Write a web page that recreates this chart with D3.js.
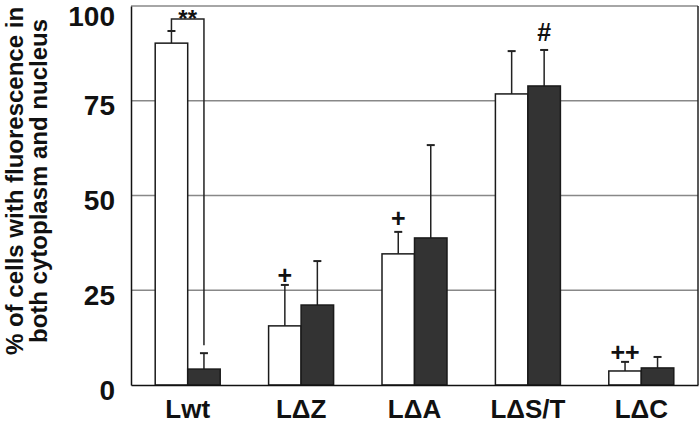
<!DOCTYPE html>
<html><head><meta charset="utf-8">
<script src="https://cdn.jsdelivr.net/npm/d3@7"></script>
<style>body{margin:0;background:#fff}svg{display:block}</style>
</head><body>
<script>
const categories = ["Lwt", "L\u0394Z", "L\u0394A", "L\u0394S/T", "L\u0394C"];
const series = ["open", "filled"];
const openValues = [90.2, 15.6, 34.6, 76.8, 3.7];
const openErrors = [3.2, 10.8, 5.8, 11.3, 2.4];
const filledValues = [4.2, 21.1, 38.8, 78.9, 4.5];
const filledErrors = [4.2, 11.6, 24.5, 9.5, 2.9];
const yTicks = [0, 25, 50, 75, 100];
const marks = [
  {cat: "L\u0394Z", text: "+", value: 28.8},
  {cat: "L\u0394A", text: "+", value: 43.8},
  {cat: "L\u0394S/T", text: "#", value: 92.9, series: "filled"},
  {cat: "L\u0394C", text: "++", value: 8.7}
];

const FONT = "'Liberation Sans', Arial, Helvetica, sans-serif";
const W = 700, H = 424;
const m = {left: 131, right: 2, top: 6, bottom: 39};
const svg = d3.select("body").append("svg").attr("width", W).attr("height", H)
  .style("font-family", FONT);

const x = d3.scaleBand().domain(categories).range([m.left, W - m.right]);
const xs = d3.scaleBand().domain(series).range([0, 65]);
const y = d3.scaleLinear().domain([0, 100]).range([H - m.bottom, m.top]);

// gridlines
svg.append("g").selectAll("line").data(yTicks.filter(d => d > 0)).join("line")
  .attr("x1", m.left).attr("x2", W - m.right)
  .attr("y1", d => y(d)).attr("y2", d => y(d))
  .attr("stroke", "#888").attr("stroke-width", 1.3);
// right border
svg.append("line").attr("x1", W - m.right).attr("x2", W - m.right)
  .attr("y1", y(100)).attr("y2", y(0)).attr("stroke", "#222").attr("stroke-width", 1.5);

const data = [];
categories.forEach((c, i) => {
  data.push({cat: c, s: "open", v: openValues[i], e: openErrors[i]});
  data.push({cat: c, s: "filled", v: filledValues[i], e: filledErrors[i]});
});
const bx = d => x(d.cat) + x.bandwidth() / 2 - 32.5 + xs(d.s);
const cx = d => bx(d) + xs.bandwidth() / 2;

// error bars
const eg = svg.append("g").attr("stroke", "#222").attr("stroke-width", 1.5);
eg.selectAll("line.v").data(data).join("line").attr("class", "v")
  .attr("x1", cx).attr("x2", cx).attr("y1", d => y(d.v)).attr("y2", d => y(d.v + d.e));
eg.selectAll("line.c").data(data).join("line").attr("class", "c")
  .attr("x1", d => cx(d) - 4).attr("x2", d => cx(d) + 4)
  .attr("y1", d => y(d.v + d.e)).attr("y2", d => y(d.v + d.e)).attr("stroke-width", 2);

// bars
svg.append("g").selectAll("rect").data(data).join("rect")
  .attr("x", bx).attr("width", xs.bandwidth())
  .attr("y", d => y(d.v)).attr("height", d => y(0) - y(d.v))
  .attr("fill", d => d.s === "open" ? "#fff" : "#333")
  .attr("stroke", "#1a1a1a").attr("stroke-width", 1.5);

// significance bracket for Lwt
const o0 = data[0], f0 = data[1];
svg.append("path")
  .attr("d", `M${cx(o0)},${y(o0.v + o0.e) - 1} V${y(96.6)} H${cx(f0)} V${y(10.5)}`)
  .attr("fill", "none").attr("stroke", "#222").attr("stroke-width", 1.5);
svg.append("text").attr("x", (cx(o0) + cx(f0)) / 2).attr("y", y(96.6) + 8)
  .attr("text-anchor", "middle").attr("font-size", 24).attr("font-weight", "bold")
  .attr("fill", "#111").text("**");

// annotation marks
svg.append("g").selectAll("text").data(marks).join("text")
  .attr("x", d => x(d.cat) + x.bandwidth() / 2 - 32.5 + xs(d.series || "open") + xs.bandwidth() / 2)
  .attr("y", d => y(d.value))
  .attr("dy", "0.34em")
  .attr("text-anchor", "middle").attr("font-size", 25).attr("font-weight", "bold")
  .attr("fill", "#111").text(d => d.text);

// axes
const yAxis = svg.append("g").attr("transform", `translate(${m.left},0)`)
  .call(d3.axisLeft(y).tickValues(yTicks).tickSize(0).tickPadding(16));
yAxis.select(".domain").attr("stroke", "#111").attr("stroke-width", 1.5);
yAxis.selectAll("text").attr("font-size", 28).attr("font-weight", "bold")
  .attr("fill", "#111").attr("font-family", FONT)
  .attr("dy", d => d === 100 ? "0.68em" : "0.5em");

const xAxis = svg.append("g").attr("transform", `translate(0,${y(0)})`)
  .call(d3.axisBottom(x).tickSize(0).tickPadding(14));
xAxis.select(".domain").attr("stroke", "#111").attr("stroke-width", 1.5);
xAxis.selectAll("text").attr("font-size", 26).attr("font-weight", "bold")
  .attr("fill", "#111").attr("font-family", FONT)
  .attr("dy", null).attr("y", 33);

// y title
const t = svg.append("text").attr("transform", "translate(0,181) rotate(-90)")
  .attr("text-anchor", "middle").attr("font-size", 24).attr("font-weight", "bold").attr("fill", "#111");
t.append("tspan").attr("x", 0).attr("y", 23).text("% of cells with fluorescence in");
t.append("tspan").attr("x", 0).attr("y", 47).text("both cytoplasm and nucleus");
</script>
</body></html>
